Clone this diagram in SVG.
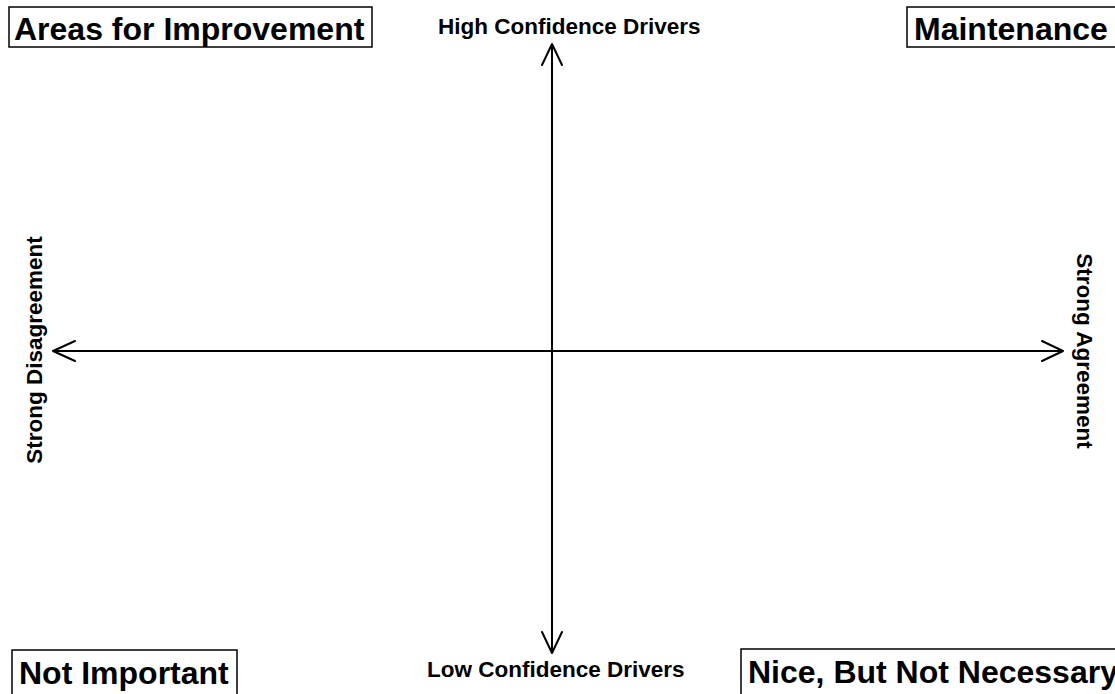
<svg xmlns="http://www.w3.org/2000/svg" width="1115" height="694" viewBox="0 0 1115 694">
  <style>
    .box { fill: #fff; stroke: #000; stroke-width: 1.5; }
    .quad { font-family: "Liberation Sans", Arial, sans-serif; font-weight: bold; font-size: 32px; fill: #000; }
    .axis-label { font-family: "Liberation Sans", Arial, sans-serif; font-weight: bold; font-size: 22.5px; fill: #000; }
    .axis { stroke: #000; stroke-width: 2; fill: none; }
    .head { stroke: #000; stroke-width: 2; fill: none; stroke-linecap: round; stroke-linejoin: round; }
  </style>
  <rect width="1115" height="694" fill="#fff"/>

  <!-- axes -->
  <g id="connectors">
    <line class="axis" x1="552" y1="44" x2="552" y2="653"/>
    <line class="axis" x1="53" y1="351" x2="1063" y2="351"/>
    <polyline class="head" points="542,65 552,44 562,65"/>
    <polyline class="head" points="542,632 552,653 562,632"/>
    <polyline class="head" points="75,341 53,351 75,361"/>
    <polyline class="head" points="1042,341 1063,351 1042,361"/>
  </g>

  <!-- quadrant labels -->
  <g id="areas-for-improvement">
    <rect class="box" x="9" y="7" width="363" height="40"/>
    <text class="quad" x="14" y="40">Areas for Improvement</text>
  </g>
  <g id="maintenance">
    <rect class="box" x="907" y="7" width="215" height="40"/>
    <text class="quad" x="914" y="40">Maintenance</text>
  </g>
  <g id="not-important">
    <rect class="box" x="12" y="650" width="225" height="60"/>
    <text class="quad" x="19" y="684">Not Important</text>
  </g>
  <g id="nice-but-not-necessary">
    <rect class="box" x="741" y="649" width="390" height="60"/>
    <text class="quad" x="748" y="683" font-size="31.3">Nice, But Not Necessary</text>
  </g>

  <!-- axis labels -->
  <g id="high-confidence">
    <text class="axis-label" x="438" y="34">High Confidence Drivers</text>
  </g>
  <g id="low-confidence">
    <text class="axis-label" x="427" y="677">Low Confidence Drivers</text>
  </g>
  <g id="strong-disagreement">
    <text class="axis-label" text-anchor="middle" transform="translate(42,350) rotate(-90)">Strong Disagreement</text>
  </g>
  <g id="strong-agreement">
    <text class="axis-label" text-anchor="middle" transform="translate(1077,351) rotate(90)">Strong Agreement</text>
  </g>
</svg>
